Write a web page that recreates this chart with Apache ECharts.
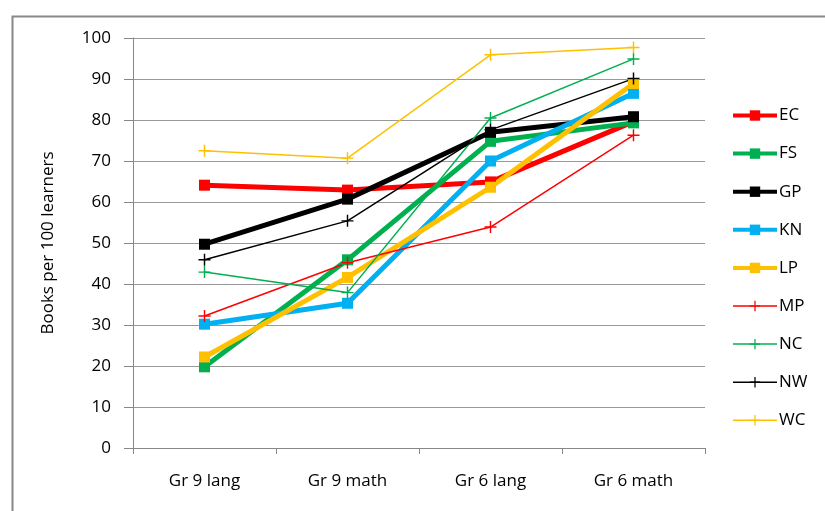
<!DOCTYPE html>
<html>
<head>
<meta charset="utf-8">
<script src="https://cdn.jsdelivr.net/npm/echarts@6/dist/echarts.min.js"></script>
<style>html,body{margin:0;padding:0;background:#fff}#c{width:825px;height:511px}</style>
</head>
<body>
<div id="c"></div>
<script>
var categories = ['Gr 9 lang', 'Gr 9 math', 'Gr 6 lang', 'Gr 6 math'];
var seriesNames = ['EC', 'FS', 'GP', 'KN', 'LP', 'MP', 'NC', 'NW', 'WC'];
var EC = [64.1, 62.9, 64.9, 79.6];
var FS = [19.8, 45.9, 74.8, 79.3];
var GP = [49.7, 60.7, 77.0, 80.8];
var KN = [30.2, 35.3, 70.0, 86.5];
var LP = [22.2, 41.6, 63.6, 88.9];
var MP = [32.2, 45.2, 53.9, 76.3];
var NC = [42.9, 37.9, 80.5, 94.9];
var NW = [45.9, 55.4, 77.6, 90.1];
var WC = [72.5, 70.7, 95.9, 97.7];
var yTicks = [0, 10, 20, 30, 40, 50, 60, 70, 80, 90, 100];

var values = {EC: EC, FS: FS, GP: GP, KN: KN, LP: LP, MP: MP, NC: NC, NW: NW, WC: WC};
var colors = {EC: '#FF0000', FS: '#00B050', GP: '#000000', KN: '#00B0F0', LP: '#FFC000',
              MP: '#FF0000', NC: '#00B050', NW: '#000000', WC: '#FFC000'};
var thick = {EC: true, FS: true, GP: true, KN: true, LP: true};
var plusPath = 'path://M4.4,0h1.2v10h-1.2zM0,4.4h10v1.2h-10z';
var font = 'Open Sans';

var chart = echarts.init(document.getElementById('c'), null, {renderer: 'canvas'});
var series = seriesNames.map(function (n) {
  var t = thick[n];
  return {
    name: n,
    type: 'line',
    data: values[n],
    symbol: t ? 'rect' : plusPath,
    symbolSize: t ? 11 : 12,
    lineStyle: {color: colors[n], width: t ? 5 : 1.5},
    itemStyle: {color: colors[n]},
    emphasis: {disabled: true},
    animation: false
  };
});
var legendData = seriesNames.map(function (n) {
  return {name: n, lineStyle: {width: thick[n] ? 4 : 1.5, color: colors[n]}};
});

chart.setOption({
  animation: false,
  backgroundColor: '#ffffff',
  graphic: [{
    type: 'rect', left: 10, top: 14, z: -10,
    shape: {width: 900, height: 600},
    style: {fill: 'none', stroke: '#888888', lineWidth: 2}
  }],
  grid: {left: 133, right: 120, top: 38, bottom: 63, containLabel: false},
  legend: {
    orient: 'vertical',
    left: 726, top: 102,
    itemWidth: 44, itemHeight: 13, itemGap: 21.1,
    data: legendData,
    textStyle: {fontFamily: font, fontSize: 17, color: '#000', padding: [0, 0, 0, -3]}
  },
  xAxis: {
    type: 'category',
    data: categories,
    boundaryGap: true,
    axisLine: {lineStyle: {color: '#888888', width: 1}},
    axisTick: {show: true, length: 6, lineStyle: {color: '#888888'}},
    axisLabel: {fontFamily: font, fontSize: 17, color: '#000', margin: 25}
  },
  yAxis: {
    type: 'value',
    min: yTicks[0], max: yTicks[yTicks.length - 1], interval: 10,
    name: 'Books per 100 learners',
    nameLocation: 'middle', nameGap: 76, nameRotate: 90,
    nameTextStyle: {fontFamily: font, fontSize: 17, color: '#000'},
    axisLine: {show: true, lineStyle: {color: '#888888', width: 1}},
    axisTick: {show: true, length: 9, lineStyle: {color: '#888888'}},
    splitLine: {lineStyle: {color: '#999999', width: 1}},
    axisLabel: {fontFamily: font, fontSize: 17, color: '#000', margin: 22}
  },
  series: series
});
</script>
</body>
</html>
